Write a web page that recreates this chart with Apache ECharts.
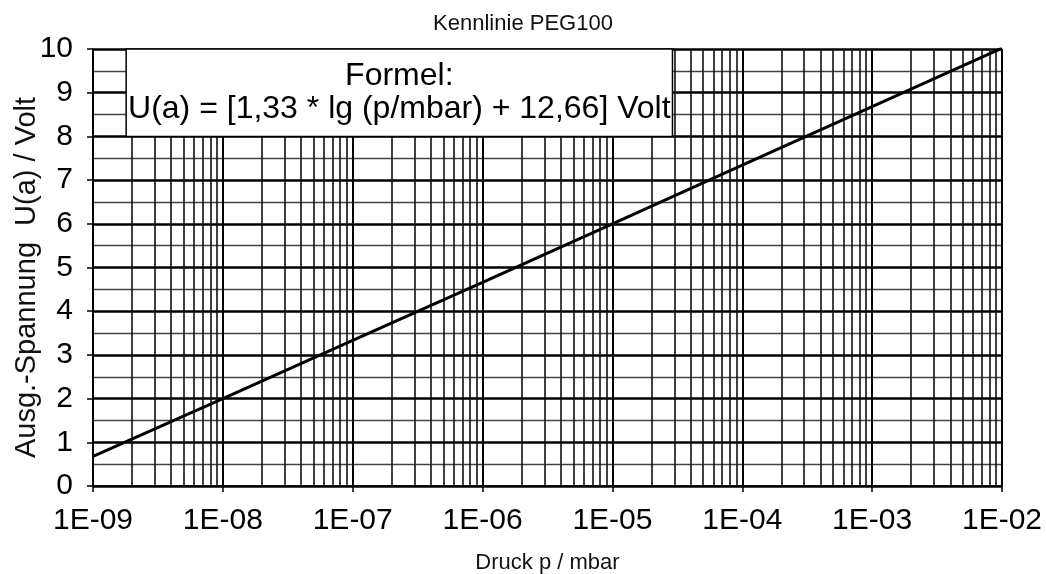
<!DOCTYPE html>
<html>
<head>
<meta charset="utf-8">
<script src="https://cdn.jsdelivr.net/npm/echarts@6/dist/echarts.min.js"></script>
<style>html,body{margin:0;padding:0;background:#fff}#c{width:1046px;height:574px}</style>
</head>
<body>
<div id="c"></div>
<script>
// ---- data ----
const titleText = 'Kennlinie PEG100';
const xName = 'Druck p / mbar';
const yName = 'Ausg.-Spannung  U(a) / Volt';
const formulaLines = ['Formel:', 'U(a) = [1,33 * lg (p/mbar) + 12,66] Volt'];
const xTickExponents = [-9, -8, -7, -6, -5, -4, -3, -2];
const xTickLabels = ['1E-09', '1E-08', '1E-07', '1E-06', '1E-05', '1E-04', '1E-03', '1E-02'];
const yTickLabels = ['0','1','2','3','4','5','6','7','8','9','10'];
const pressure = [1e-9, 1e-8, 1e-7, 1e-6, 1e-5, 1e-4, 1e-3, 1e-2];
const voltage  = [0.68, 2.0, 3.33, 4.66, 6.0, 7.34, 8.68, 10.02];
const gridMantissas = [2, 3, 4, 5, 6, 7, 8, 9];
const yRange = [0, 10];
const boxCorners = [[1.8e-9, 8], [2.9e-5, 10]];

const FONT = '"Liberation Sans", Arial, sans-serif';

const minorLines = [];
for (let i = 0; i < xTickExponents.length - 1; i++) {
  for (const m of gridMantissas) {
    const x = m * Math.pow(10, xTickExponents[i]);
    minorLines.push([{ coord: [x, yRange[0]] }, { coord: [x, yRange[1]] }]);
  }
}
const pts = pressure.map((p, i) => [p, voltage[i]]);

const chart = echarts.init(document.getElementById('c'), null, { renderer: 'canvas' });
chart.setOption({
  backgroundColor: '#fff',
  animation: false,
  title: {
    text: titleText, left: 'center', top: 13, padding: 0,
    textStyle: { fontFamily: FONT, fontSize: 22, fontWeight: 'normal', color: '#111' }
  },
  grid: { left: 93, right: 44, top: 49, bottom: 88, containLabel: false, outerBoundsMode: 'none' },
  xAxis: {
    type: 'log', logBase: 10, min: 1e-9, max: 1e-2, splitNumber: 7,
    name: xName, nameLocation: 'middle', nameGap: 66, nameMoveOverlap: false,
    nameTextStyle: { fontFamily: FONT, fontSize: 22, color: '#111' },
    axisLine: { show: true, lineStyle: { color: '#000', width: 1.5 } },
    axisTick: { show: true, length: 6, lineStyle: { color: '#000', width: 1.5 } },
    axisLabel: {
      fontFamily: FONT, fontSize: 30, color: '#000', margin: 20,
      formatter: function (v) {
        const e = Math.round(Math.log10(v));
        const i = xTickExponents.indexOf(e);
        return i >= 0 ? xTickLabels[i] : '';
      }
    },
    splitLine: { show: true, lineStyle: { color: '#000', width: 2 } },
    minorTick: { show: false },
    minorSplitLine: { show: false }
  },
  yAxis: {
    type: 'value', min: yRange[0], max: yRange[1], interval: 1,
    name: yName, nameLocation: 'middle', nameGap: 52, nameRotate: 90, nameMoveOverlap: false,
    nameTextStyle: { fontFamily: FONT, fontSize: 29, color: '#111', padding: [0, 20, 0, 0] },
    axisLine: { show: true, lineStyle: { color: '#000', width: 1.5 } },
    axisTick: { show: true, length: 6, lineStyle: { color: '#000', width: 1.5 } },
    axisLabel: {
      fontFamily: FONT, fontSize: 30, color: '#000', margin: 20,
      formatter: function (v) { return yTickLabels[Math.round(v)]; }
    },
    splitLine: { show: true, lineStyle: { color: '#000', width: 2.6 } },
    minorTick: { show: false, splitNumber: 2 },
    minorSplitLine: { show: true, lineStyle: { color: '#444', width: 1.3 } }
  },
  series: [
    {
      name: 'grid', type: 'line', data: pts, z: 1, silent: true,
      showSymbol: false, symbol: 'none', lineStyle: { opacity: 0 },
      markLine: {
        silent: true, symbol: ['none', 'none'], animation: false, z: 1,
        label: { show: false },
        lineStyle: { color: '#111', width: 1.6, type: 'solid' },
        data: minorLines
      }
    },
    {
      name: 'box', type: 'line', data: pts, z: 3, silent: true,
      showSymbol: false, symbol: 'none', lineStyle: { opacity: 0 },
      markArea: {
        silent: true, z: 3,
        itemStyle: { color: '#fff', borderColor: '#000', borderWidth: 1.5 },
        label: {
          show: true, position: 'inside',
          fontFamily: FONT, fontSize: 32, lineHeight: 33, color: '#000',
          formatter: formulaLines.join('\n'), padding: [0, 0, 6, 0]
        },
        data: [[{ coord: boxCorners[0] }, { coord: boxCorners[1] }]]
      }
    },
    {
      name: 'U(a)', type: 'line', z: 5,
      data: pts,
      showSymbol: false, symbol: 'none',
      lineStyle: { color: '#000', width: 3 }
    }
  ]
});
</script>
</body>
</html>
